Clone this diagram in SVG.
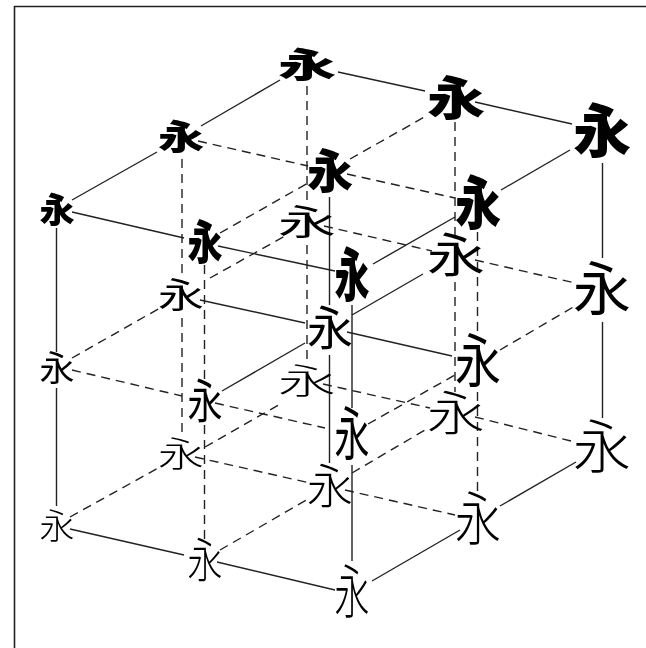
<svg xmlns="http://www.w3.org/2000/svg" width="646" height="648" viewBox="0 0 646 648">
<style>
text{font-family:"Noto Sans CJK JP","Noto Sans CJK SC",sans-serif;font-size:100px;text-anchor:middle;fill:#000}
#nodes{opacity:.999}
.t{font-weight:900}.m{font-weight:400}.b{font-weight:300}
line{stroke:#222;stroke-width:1.4;fill:none}
.d{stroke-dasharray:9 6}
#frame{fill:none;stroke:#222;stroke-width:1.6}
</style>
<rect width="646" height="648" fill="#fff"/>
<path id="frame" d="M14.500 648V6.500H646"/>
<g id="connectors">
<line x1="72" y1="200" x2="157" y2="152"/><line x1="201" y1="126" x2="280" y2="80"/>
<line x1="72" y1="212" x2="184" y2="238"/><line x1="218" y1="246" x2="335" y2="271"/>
<line x1="338" y1="72" x2="425" y2="91"/><line x1="475" y1="102" x2="572" y2="124"/>
<line x1="373" y1="264" x2="455" y2="217"/><line x1="501" y1="190" x2="570" y2="150"/>
<line class="d" x1="198" y1="141" x2="308" y2="166"/><line class="d" x1="347" y1="174" x2="455" y2="198"/>
<line class="d" x1="220" y1="233" x2="308" y2="183"/><line class="d" x1="350" y1="159" x2="428" y2="115"/>
<line class="d" x1="210" y1="278" x2="285" y2="236"/><line class="d" x1="324" y1="226" x2="432" y2="251"/><line class="d" x1="475" y1="260" x2="575" y2="283"/>
<line class="d" x1="72" y1="358" x2="160" y2="308"/><line class="d" x1="72" y1="370" x2="182" y2="396"/><line class="d" x1="215" y1="403" x2="325" y2="428"/>
<line class="d" x1="368" y1="424" x2="455" y2="375"/><line class="d" x1="500" y1="350" x2="575" y2="306"/>
<line x1="222" y1="391" x2="305" y2="343"/><line x1="352" y1="315" x2="423" y2="274"/>
<line x1="200" y1="300" x2="305" y2="323"/><line x1="347" y1="332" x2="452" y2="356"/>
<line class="d" x1="70" y1="517" x2="160" y2="467"/><line class="d" x1="205" y1="447" x2="282" y2="403"/>
<line class="d" x1="323" y1="384" x2="430" y2="408"/><line class="d" x1="475" y1="417" x2="575" y2="442"/>
<line class="d" x1="195" y1="457" x2="310" y2="483"/><line class="d" x1="345" y1="490" x2="455" y2="515"/>
<line class="d" x1="220" y1="550" x2="310" y2="498"/><line class="d" x1="352" y1="473" x2="425" y2="430"/>
<line x1="70" y1="529" x2="184" y2="555"/><line x1="217" y1="562" x2="335" y2="590"/>
<line x1="372" y1="581" x2="460" y2="530"/><line x1="500" y1="506" x2="576" y2="462"/>
<line x1="56.500" y1="228" x2="56.500" y2="352"/><line x1="56.500" y1="388" x2="56.500" y2="506"/>
<line class="d" x1="182" y1="159" x2="182" y2="278"/><line class="d" x1="182" y1="318" x2="182" y2="438"/>
<line class="d" x1="307" y1="86" x2="307" y2="202"/><line class="d" x1="307" y1="245" x2="307" y2="365"/>
<line class="d" x1="204.500" y1="265" x2="204.500" y2="382"/><line class="d" x1="204.500" y1="425" x2="204.500" y2="540"/>
<line x1="329.500" y1="197" x2="329.500" y2="305"/><line x1="329.500" y1="355" x2="329.500" y2="463"/>
<line x1="352" y1="305" x2="352" y2="408"/><line x1="352" y1="465" x2="352" y2="561"/>
<line class="d" x1="455" y1="122" x2="455" y2="235"/><line class="d" x1="455" y1="282" x2="455" y2="392"/>
<line class="d" x1="477.500" y1="232" x2="477.500" y2="338"/><line class="d" x1="477.500" y1="392" x2="477.500" y2="495"/>
<line x1="602.500" y1="163" x2="602.500" y2="258"/><line x1="602.500" y1="322" x2="602.500" y2="418"/>
</g>
<g id="nodes">
<g id="t00"><text class="t" transform="translate(57,223) scale(.35,.35)">永</text></g>
<g id="t01"><text class="t" transform="translate(181,150) scale(.46,.35)">永</text></g>
<g id="t02"><text class="t" transform="translate(307,78) scale(.58,.35)">永</text></g>
<g id="t10"><text class="t" transform="translate(205,259) scale(.35,.47)">永</text></g>
<g id="t11"><text class="t" transform="translate(330,188) scale(.46,.47)">永</text></g>
<g id="t12"><text class="t" transform="translate(456,115) scale(.58,.47)">永</text></g>
<g id="t20"><text class="t" transform="translate(352,296) scale(.35,.58)">永</text></g>
<g id="t21"><text class="t" transform="translate(478,224) scale(.46,.58)">永</text></g>
<g id="t22"><text class="t" transform="translate(602,152) scale(.58,.58)">永</text></g>
<g id="m00"><text class="m" transform="translate(57,381) scale(.35,.35)">永</text></g>
<g id="m01"><text class="m" transform="translate(181,308) scale(.46,.35)">永</text></g>
<g id="m02"><text class="m" transform="translate(307,235) scale(.58,.35)">永</text></g>
<g id="m10"><text class="m" transform="translate(205,418) scale(.35,.47)">永</text></g>
<g id="m11"><text class="m" transform="translate(330,345) scale(.46,.47)">永</text></g>
<g id="m12"><text class="m" transform="translate(456,272) scale(.58,.47)">永</text></g>
<g id="m20"><text class="m" transform="translate(352,455) scale(.35,.58)">永</text></g>
<g id="m21"><text class="m" transform="translate(478,382) scale(.46,.58)">永</text></g>
<g id="m22"><text class="m" transform="translate(602,310) scale(.58,.58)">永</text></g>
<g id="b00"><text class="b" transform="translate(57,539) scale(.35,.35)">永</text></g>
<g id="b01"><text class="b" transform="translate(181,467) scale(.46,.35)">永</text></g>
<g id="b02"><text class="b" transform="translate(307,394) scale(.58,.35)">永</text></g>
<g id="b10"><text class="b" transform="translate(205,577) scale(.35,.47)">永</text></g>
<g id="b11"><text class="b" transform="translate(330,503) scale(.46,.47)">永</text></g>
<g id="b12"><text class="b" transform="translate(456,430) scale(.58,.47)">永</text></g>
<g id="b20"><text class="b" transform="translate(352,613) scale(.35,.58)">永</text></g>
<g id="b21"><text class="b" transform="translate(478,540) scale(.46,.58)">永</text></g>
<g id="b22"><text class="b" transform="translate(602,468) scale(.58,.58)">永</text></g>
</g>
</svg>
